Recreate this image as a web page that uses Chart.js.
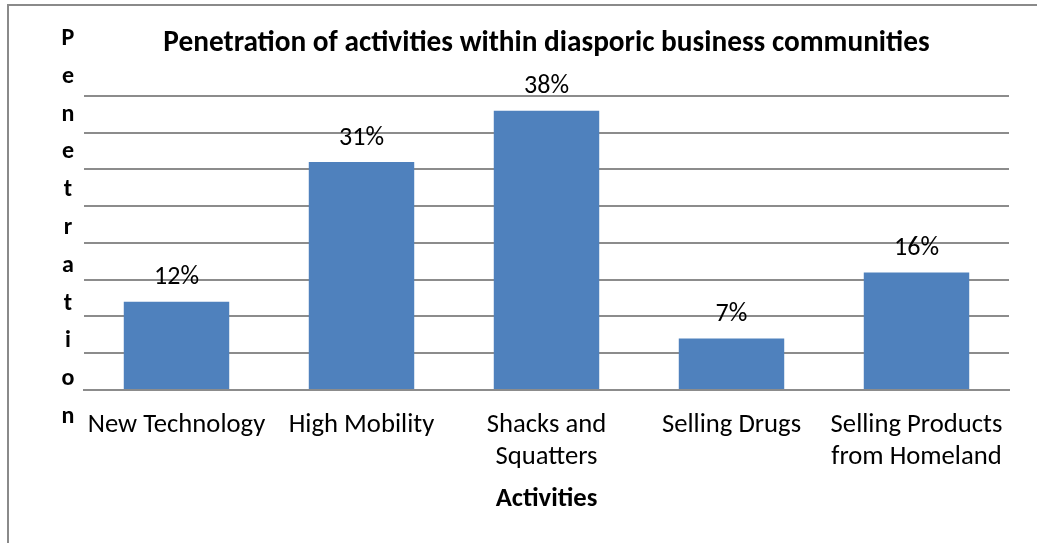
<!DOCTYPE html>
<html>
<head>
<meta charset="utf-8">
<script src="https://cdn.jsdelivr.net/npm/chart.js@4.4.1/dist/chart.umd.min.js"></script>
<style>
  html, body { margin: 0; padding: 0; background: #ffffff; overflow: hidden; }
  #wrap { position: relative; width: 1037px; height: 543px; }
  #frame { position: absolute; left: 7px; top: 4px; width: 1040px; height: 600px; border: 2px solid #8a8a8a; box-sizing: border-box; pointer-events: none; }
  canvas { position: absolute; left: 0; top: 0; }
</style>
</head>
<body>
<div id="wrap">
  <canvas id="c" width="1037" height="543"></canvas>
  <div id="frame"></div>
</div>
<script>
const categories = ['New Technology', 'High Mobility', ['Shacks and', 'Squatters'], 'Selling Drugs', ['Selling Products', 'from Homeland']];
const penetration = [12, 31, 38, 7, 16];
const chartTitle = 'Penetration of activities within diasporic business communities';
const xTitle = 'Activities';
const yTitle = 'Penetration';

const FONT = 'Carlito, Lato, "Open Sans", sans-serif';

const dataLabels = {
  id: 'dataLabels',
  afterDatasetsDraw(chart) {
    const ctx = chart.ctx;
    const meta = chart.getDatasetMeta(0);
    ctx.save();
    ctx.font = '26px ' + FONT;
    ctx.fillStyle = '#000';
    ctx.textAlign = 'center';
    ctx.textBaseline = 'middle';
    meta.data.forEach((bar, i) => {
      ctx.fillText(penetration[i] + '%', bar.x, bar.y - 24);
    });
    ctx.restore();
  }
};

const stackedYTitle = {
  id: 'stackedYTitle',
  afterDraw(chart) {
    const ctx = chart.ctx;
    ctx.save();
    ctx.font = 'bold 24px ' + FONT;
    ctx.fillStyle = '#000';
    ctx.textAlign = 'center';
    ctx.textBaseline = 'alphabetic';
    yTitle.split('').forEach((ch, i) => {
      ctx.fillText(ch, 68, 45 + i * 37.8);
    });
    ctx.restore();
  }
};

new Chart(document.getElementById('c'), {
  type: 'bar',
  data: {
    labels: categories,
    datasets: [{
      data: penetration,
      backgroundColor: '#4f81bd',
      borderWidth: 0,
      categoryPercentage: 1,
      barPercentage: 0.57
    }]
  },
  options: {
    responsive: false,
    animation: false,
    events: [],
    layout: { padding: { left: 84, right: 28, top: 26.4, bottom: 28 } },
    plugins: {
      legend: { display: false },
      tooltip: { enabled: false },
      title: {
        display: true,
        text: chartTitle,
        color: '#000',
        font: { family: FONT, size: 29.3, weight: 'bold', lineHeight: 1.2 },
        padding: { top: 0, bottom: 34.4 }
      }
    },
    scales: {
      x: {
        grid: { display: false, drawTicks: false },
        border: { display: true, color: '#8c8c8c', width: 2 },
        ticks: {
          color: '#000',
          font: { family: FONT, size: 26.67, lineHeight: 1.2 },
          padding: 19,
          maxRotation: 0,
          autoSkip: false
        },
        title: {
          display: true,
          text: xTitle,
          color: '#000',
          font: { family: FONT, size: 26.67, weight: 'bold', lineHeight: 1.2 },
          padding: { top: -9, bottom: 0 }
        }
      },
      y: {
        min: 0,
        max: 40,
        ticks: { display: false, stepSize: 5 },
        grid: { color: '#8c8c8c', lineWidth: 2, drawTicks: false },
        border: { display: false }
      }
    }
  },
  plugins: [dataLabels, stackedYTitle]
});
</script>
</body>
</html>
